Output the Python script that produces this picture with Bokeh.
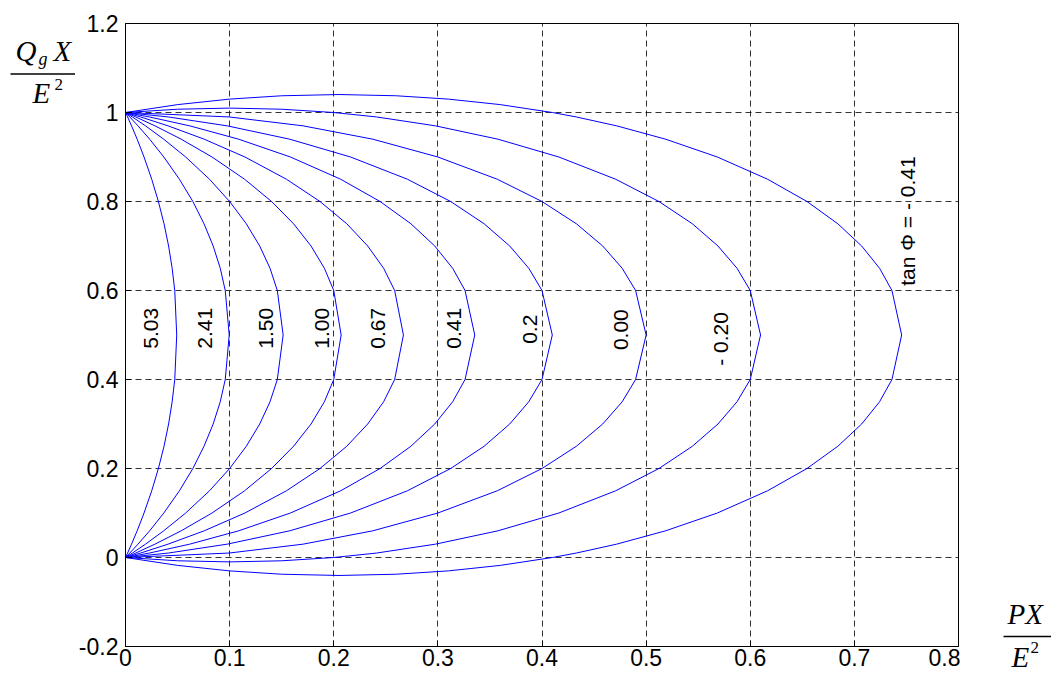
import math
from bokeh.plotting import figure
from bokeh.models import Label, FixedTicker, Range1d
from bokeh.layouts import row
from bokeh.embed import file_html
from bokeh.resources import INLINE

# ---- data ----
# generator reactive power levels Qg*X/E^2 along each curve (right branch)
qg_levels = [0, 0.01, 0.03, 0.06, 0.1, 0.15, 0.2, 0.25, 0.3, 0.35, 0.4, 0.5,
             0.6, 0.65, 0.7, 0.75, 0.8, 0.85, 0.9, 0.94, 0.97, 0.99, 1]

# P*X/E^2 at each level, one list per tan(phi)
px_503 = [0, 0.0020, 0.0058, 0.0112, 0.0178, 0.0252, 0.0316, 0.0370, 0.0414, 0.0448, 0.0473, 0.0492,
          0.0473, 0.0448, 0.0414, 0.0370, 0.0316, 0.0252, 0.0178, 0.0112, 0.0058, 0.0020, 0]
px_241 = [0, 0.0041, 0.0120, 0.0232, 0.0368, 0.0518, 0.0647, 0.0754, 0.0842, 0.0910, 0.0958, 0.0996,
          0.0958, 0.0910, 0.0842, 0.0754, 0.0647, 0.0518, 0.0368, 0.0232, 0.0120, 0.0041, 0]
px_150 = [0, 0.0066, 0.0192, 0.0367, 0.0578, 0.0807, 0.1000, 0.1160, 0.1289, 0.1388, 0.1458, 0.1514,
          0.1458, 0.1388, 0.1289, 0.1160, 0.1000, 0.0807, 0.0578, 0.0367, 0.0192, 0.0066, 0]
px_100 = [0, 0.0098, 0.0283, 0.0535, 0.0831, 0.1144, 0.1403, 0.1614, 0.1782, 0.1910, 0.2000, 0.2071,
          0.2000, 0.1910, 0.1782, 0.1614, 0.1403, 0.1144, 0.0831, 0.0535, 0.0283, 0.0098, 0]
px_067 = [0, 0.0145, 0.0409, 0.0756, 0.1147, 0.1546, 0.1868, 0.2125, 0.2326, 0.2479, 0.2585, 0.2669,
          0.2585, 0.2479, 0.2326, 0.2125, 0.1868, 0.1546, 0.1147, 0.0756, 0.0409, 0.0145, 0]
px_041 = [0, 0.0229, 0.0617, 0.1087, 0.1584, 0.2067, 0.2445, 0.2741, 0.2970, 0.3142, 0.3261, 0.3354,
          0.3261, 0.3142, 0.2970, 0.2741, 0.2445, 0.2067, 0.1584, 0.1087, 0.0617, 0.0229, 0]
px_020 = [0, 0.0411, 0.0977, 0.1577, 0.2162, 0.2708, 0.3123, 0.3444, 0.3690, 0.3873, 0.4000, 0.4099,
          0.4000, 0.3873, 0.3690, 0.3444, 0.3123, 0.2708, 0.2162, 0.1577, 0.0977, 0.0411, 0]
px_000 = [0, 0.0995, 0.1706, 0.2375, 0.3000, 0.3571, 0.4000, 0.4330, 0.4583, 0.4770, 0.4899, 0.5000,
          0.4899, 0.4770, 0.4583, 0.4330, 0.4000, 0.3571, 0.3000, 0.2375, 0.1706, 0.0995, 0]
px_m020 = [0.2000, 0.2411, 0.2977, 0.3577, 0.4162, 0.4708, 0.5123, 0.5444, 0.5690, 0.5873, 0.6000, 0.6099,
           0.6000, 0.5873, 0.5690, 0.5444, 0.5123, 0.4708, 0.4162, 0.3577, 0.2977, 0.2411, 0.2000]
px_m041 = [0.4100, 0.4329, 0.4717, 0.5187, 0.5684, 0.6167, 0.6545, 0.6841, 0.7070, 0.7242, 0.7361, 0.7454,
           0.7361, 0.7242, 0.7070, 0.6841, 0.6545, 0.6167, 0.5684, 0.5187, 0.4717, 0.4329, 0.4100]

# short outer arcs of the two leading-power-factor curves (below 0 and above 1)
arc_m020_px = [0, 0.05, 0.1, 0.15, 0.2]
arc_m020_low = [0, -0.0074, -0.0099, -0.0074, 0]
arc_m020_high = [1, 1.0074, 1.0099, 1.0074, 1]
arc_m041_px = [0, 0.05, 0.1, 0.15, 0.205, 0.26, 0.31, 0.36, 0.41]
arc_m041_low = [0, -0.0177, -0.0301, -0.0376, -0.0404, -0.0376, -0.0301, -0.0177, 0]
arc_m041_high = [1, 1.0177, 1.0301, 1.0376, 1.0404, 1.0376, 1.0301, 1.0177, 1]

curve_labels = ["5.03", "2.41", "1.50", "1.00", "0.67", "0.41", "0.2", "0.00", "- 0.20", "tan \u03a6 = - 0.41"]

x_ticks = [0, 0.1, 0.2, 0.3, 0.4, 0.5, 0.6, 0.7, 0.8]
x_tick_labels = ["0", "0.1", "0.2", "0.3", "0.4", "0.5", "0.6", "0.7", "0.8"]
y_ticks = [-0.2, 0, 0.2, 0.4, 0.6, 0.8, 1, 1.2]
y_tick_labels = ["-0.2", "0", "0.2", "0.4", "0.6", "0.8", "1", "1.2"]

TICK_FONT = "Liberation Sans"
SERIF = "Liberation Serif"
BLUE = "#0000ff"
H = 674
LEFT_W = 75
MAIN_W = 885
RIGHT_W = 1051 - LEFT_W - MAIN_W

# ---- main chart ----
p = figure(width=MAIN_W, height=H, x_range=Range1d(0, 0.8), y_range=Range1d(-0.2, 1.2),
           output_backend="svg", toolbar_location=None,
           min_border_left=50, min_border_right=2, min_border_top=23, min_border_bottom=28)
p.frame_align = False
p.background_fill_color = "white"
p.border_fill_color = "white"
p.outline_line_color = "black"
p.outline_line_width = 1

def style_axis(ax, ticks, labels):
    ax.ticker = FixedTicker(ticks=ticks)
    ax.major_label_overrides = {t: l for t, l in zip(ticks, labels)}
    ax.major_tick_in = 6
    ax.major_tick_out = 0
    ax.minor_tick_in = 0
    ax.minor_tick_out = 0
    ax.axis_line_color = "black"
    ax.major_tick_line_color = "black"
    ax.major_label_text_font = TICK_FONT
    ax.major_label_text_font_size = "23px"
    ax.major_label_text_color = "black"

style_axis(p.xaxis[0], x_ticks, x_tick_labels)
style_axis(p.yaxis[0], y_ticks, y_tick_labels)
p.xaxis[0].major_label_standoff = 2
p.yaxis[0].major_label_standoff = 7

p.xgrid.ticker = FixedTicker(ticks=x_ticks)
p.ygrid.ticker = FixedTicker(ticks=y_ticks)
for g in (p.xgrid[0], p.ygrid[0]):
    g.grid_line_color = "black"
    g.grid_line_alpha = 0.8
    g.grid_line_dash = "6 4"
    g.grid_line_width = 1

for px in (px_503, px_241, px_150, px_100, px_067, px_041, px_020, px_000, px_m020, px_m041):
    p.line(px, qg_levels, line_color=BLUE, line_width=1)
p.line(arc_m020_px, arc_m020_low, line_color=BLUE, line_width=1)
p.line(arc_m020_px, arc_m020_high, line_color=BLUE, line_width=1)
p.line(arc_m041_px, arc_m041_low, line_color=BLUE, line_width=1)
p.line(arc_m041_px, arc_m041_high, line_color=BLUE, line_width=1)

# curve labels (rotated)
label_pos = [(0.0247, 0.515), (0.0768, 0.515), (0.135, 0.515), (0.189, 0.515), (0.2427, 0.515),
             (0.3153, 0.515), (0.3883, 0.513), (0.4754, 0.512), (0.5714, 0.491), (0.751, 0.756)]
for (lx, ly), txt in zip(label_pos, curve_labels):
    p.add_layout(Label(x=lx, y=ly, text=txt, angle=math.pi / 2, text_align="center",
                       text_baseline="middle", text_font=TICK_FONT, text_font_size="21px",
                       text_color="black"))

# ---- side panels holding the fraction-style axis titles (pixel coordinates) ----
def side_panel(w):
    f = figure(width=w, height=H, x_range=Range1d(0, w), y_range=Range1d(H, 0),
               output_backend="svg", toolbar_location=None,
               x_axis_location=None, y_axis_location=None,
               min_border=0, outline_line_color=None)
    f.frame_align = False
    f.background_fill_color = "white"
    f.border_fill_color = "white"
    f.xgrid.visible = False
    f.ygrid.visible = False
    return f

def lab(f, x, y, t, size, italic=True):
    # y is the vertical centre of the text box
    f.add_layout(Label(x=x, y=y, text=t, text_font=SERIF, text_font_size=size,
                       text_font_style="italic" if italic else "normal",
                       text_baseline="middle", text_align="left", text_color="black"))

left = side_panel(LEFT_W)
lab(left, 15, 50.2, "Q", "29px")
lab(left, 38, 58.9, "g", "18px")
lab(left, 53, 50.2, "X", "29px")
left.segment(x0=[10], y0=[73.5], x1=[75], y1=[73.5], line_color="black", line_width=1.3)
lab(left, 32, 92.5, "E", "29px")
lab(left, 54, 83.6, "2", "17px", italic=False)

right = side_panel(RIGHT_W)
lab(right, 47, 613.5, "PX", "29px")
right.segment(x0=[43], y0=[636], x1=[RIGHT_W], y1=[636], line_color="black", line_width=1.3)
lab(right, 51, 656.9, "E", "29px")
lab(right, 70, 647.3, "2", "17px", italic=False)

layout = row(left, p, right, spacing=0)
open("out.html", "w").write(file_html(layout, INLINE))
